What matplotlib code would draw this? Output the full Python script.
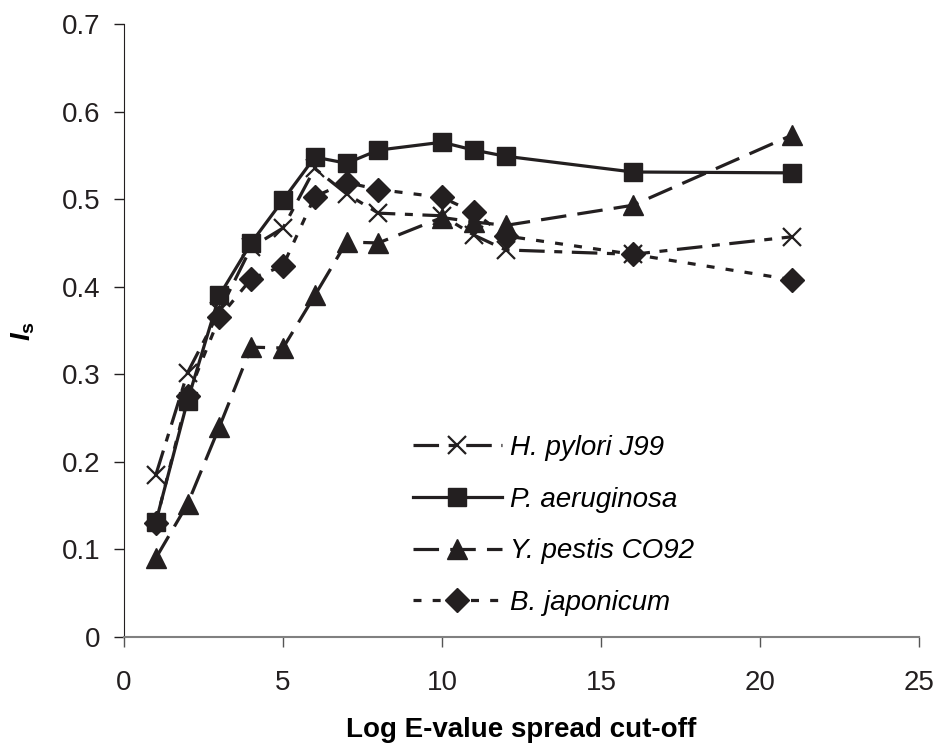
import numpy as np
import matplotlib
matplotlib.use('Agg')
import matplotlib.pyplot as plt

plt.rcParams['font.family'] = ['Liberation Sans', 'DejaVu Sans']
plt.rcParams['mathtext.fontset'] = 'custom'
plt.rcParams['mathtext.bfit'] = 'Liberation Sans:italic:bold'
plt.rcParams['mathtext.bf'] = 'Liberation Sans:bold'

# data
cutoff = [1, 2, 3, 4, 5, 6, 7, 8, 10, 11, 12, 16, 21]
h_pylori = [0.185, 0.302, 0.372, 0.445, 0.467, 0.535, 0.506, 0.484, 0.481, 0.459, 0.442, 0.437, 0.457]
p_aeruginosa = [0.131, 0.27, 0.39, 0.45, 0.499, 0.548, 0.541, 0.556, 0.565, 0.556, 0.549, 0.531, 0.53]
y_pestis = [0.09, 0.152, 0.24, 0.331, 0.33, 0.39, 0.451, 0.45, 0.479, 0.474, 0.47, 0.493, 0.573]
b_japonicum = [0.13, 0.275, 0.365, 0.409, 0.424, 0.503, 0.519, 0.511, 0.502, 0.485, 0.458, 0.437, 0.408]

ink = '#231f20'
fig = plt.figure(figsize=(9.35, 7.46), dpi=100)
ax = fig.add_axes([124/935, 1-637/746, 795/935, 613/746])

lw = 2.3
ax.plot(cutoff, h_pylori, color=ink, lw=lw, dashes=(8, 3, 2.5, 3), marker='x',
        ms=13, mew=1.6, label='H. pylori J99')
ax.plot(cutoff, p_aeruginosa, color=ink, lw=lw, ls='-', marker='s',
        ms=13.5, label='P. aeruginosa')
ax.plot(cutoff, y_pestis, color=ink, lw=lw, dashes=(8, 3.5), marker='^',
        ms=14, label='Y. pestis CO92')
ax.plot(cutoff, b_japonicum, color=ink, lw=lw, dashes=(2.5, 3.5), marker='D',
        ms=12, label='B. japonicum')

ax.set_xlim(0, 25)
ax.set_ylim(0, 0.7)
ax.set_xticks([0, 5, 10, 15, 20, 25])
ax.set_yticks([0, 0.1, 0.2, 0.3, 0.4, 0.5, 0.6, 0.7])
ax.set_yticklabels(['0', '0.1', '0.2', '0.3', '0.4', '0.5', '0.6', '0.7'])
ax.tick_params(labelsize=20, length=7, width=1, colors='#231f20', pad=10)
ax.tick_params(axis='x', color='#555555', pad=17)
ax.spines[['top', 'right']].set_visible(False)
ax.spines['left'].set_color(ink)
ax.spines['bottom'].set_color('#808080')
ax.spines['bottom'].set_linewidth(1.5)

ax.set_xlabel('Log E-value spread cut-off', fontsize=20, fontweight='bold', labelpad=15)
ax.set_ylabel(r'$\mathbfit{I}_{\mathbf{s}}$', fontsize=20, labelpad=18)

leg = ax.legend(loc='upper left', bbox_to_anchor=(0.332, 0.37), frameon=False,
                prop={'style': 'italic', 'size': 20}, handlelength=3.2,
                handletextpad=0.3, labelspacing=0.92)

fig.savefig('out.png', dpi=100)
